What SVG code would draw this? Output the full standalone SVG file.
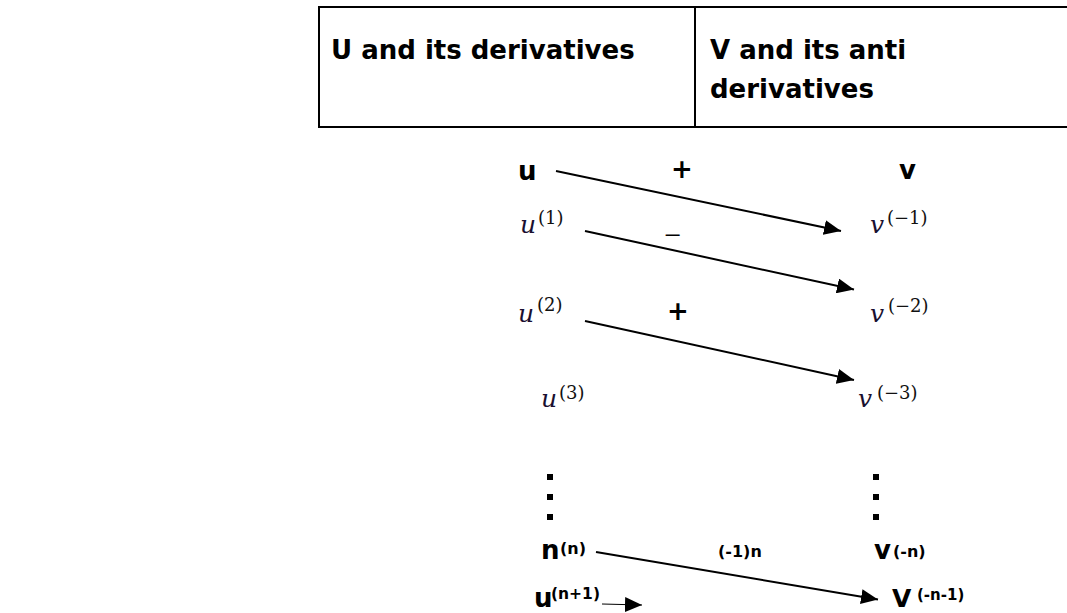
<svg xmlns="http://www.w3.org/2000/svg" width="1067" height="613" viewBox="0 0 1067 613">
<style>
.hd{font-family:"DejaVu Sans","Liberation Sans",sans-serif;font-weight:bold;font-size:26px;fill:#000}
.bl{font-family:"DejaVu Sans","Liberation Sans",sans-serif;font-weight:bold;fill:#000}
.mi{font-family:"DejaVu Serif","Liberation Serif",serif;font-style:italic;font-size:25px;fill:#1a1030}
.ms{font-family:"DejaVu Serif","Liberation Serif",serif;font-size:18px;fill:#111}
.ln{stroke:#000;stroke-width:2;fill:none}
.thin{stroke:#000;stroke-width:1;fill:none}
.dot{fill:#000}
</style>
<defs>
<marker id="ah" markerUnits="userSpaceOnUse" markerWidth="17" markerHeight="15" refX="17" refY="7.5" orient="auto">
<path d="M0,0 L17,7.5 L0,15 z" fill="#000"/>
</marker>
</defs>
<rect width="1067" height="613" fill="#fff"/>
<g id="table">
<path d="M1068,7 H319 V127 H1068" stroke="#000" stroke-width="2" fill="none"/>
<line x1="695" y1="7" x2="695" y2="127" stroke="#000" stroke-width="2"/>
<text class="hd" x="331" y="59">U and its derivatives</text>
<text class="hd" x="710" y="59">V and its anti</text>
<text class="hd" x="710" y="98">derivatives</text>
</g>
<g id="connectors">
<line class="ln" x1="556" y1="171" x2="841" y2="231" marker-end="url(#ah)"/>
<line class="ln" x1="585" y1="231" x2="854" y2="289.5" marker-end="url(#ah)"/>
<line class="ln" x1="585" y1="321" x2="854" y2="380" marker-end="url(#ah)"/>
<line class="ln" x1="596" y1="552" x2="878" y2="599.5" marker-end="url(#ah)"/>
<line class="thin" x1="602" y1="604" x2="642" y2="605" marker-end="url(#ah)"/>
</g>
<g id="u0"><text class="bl" font-size="26" x="518" y="180">u</text></g>
<g id="v0"><text class="bl" font-size="26" x="899" y="179">v</text></g>
<g id="sign1"><text class="bl" font-size="26" x="682" y="178" text-anchor="middle">+</text></g>
<g id="u1"><text class="mi" x="520" y="233">u</text><text class="ms" x="538" y="224">(1)</text></g>
<g id="v1"><text class="mi" x="870" y="233">v</text><text class="ms" x="887" y="224">(−1)</text></g>
<g id="sign2"><text font-family="Liberation Sans, sans-serif" font-size="24" x="666" y="231">_</text></g>
<g id="u2"><text class="mi" x="518" y="322">u</text><text class="ms" x="537" y="311">(2)</text></g>
<g id="v2"><text class="mi" x="870" y="322">v</text><text class="ms" x="888" y="312">(−2)</text></g>
<g id="sign3"><text class="bl" font-size="26" x="678" y="320" text-anchor="middle">+</text></g>
<g id="u3"><text class="mi" x="541" y="407">u</text><text class="ms" x="559" y="399">(3)</text></g>
<g id="v3"><text class="mi" x="858" y="407">v</text><text class="ms" x="877" y="399">(−3)</text></g>
<g id="dotsL">
<rect class="dot" x="547" y="474" width="6" height="6"/>
<rect class="dot" x="547" y="494" width="6" height="6"/>
<rect class="dot" x="547" y="514" width="6" height="6"/>
</g>
<g id="dotsR">
<rect class="dot" x="873" y="474" width="6" height="6"/>
<rect class="dot" x="873" y="494" width="6" height="6"/>
<rect class="dot" x="873" y="514" width="6" height="6"/>
</g>
<g id="nn"><text class="bl" font-size="26" x="541" y="559">n</text><text class="bl" font-size="16" x="560" y="554">(n)</text></g>
<g id="signN"><text class="bl" font-size="16" x="718" y="557">(-1)n</text></g>
<g id="vn"><text class="bl" font-size="26" x="874" y="559">v</text><text class="bl" font-size="16" x="893" y="557">(-n)</text></g>
<g id="un1"><text class="bl" font-size="26" x="534" y="607">u</text><text class="bl" font-size="15.5" x="551" y="599">(n+1)</text></g>
<g id="vn1"><text class="bl" font-size="25" x="892" y="607">V</text><text class="bl" font-size="15" x="917" y="600">(-n-1)</text></g>
</svg>
